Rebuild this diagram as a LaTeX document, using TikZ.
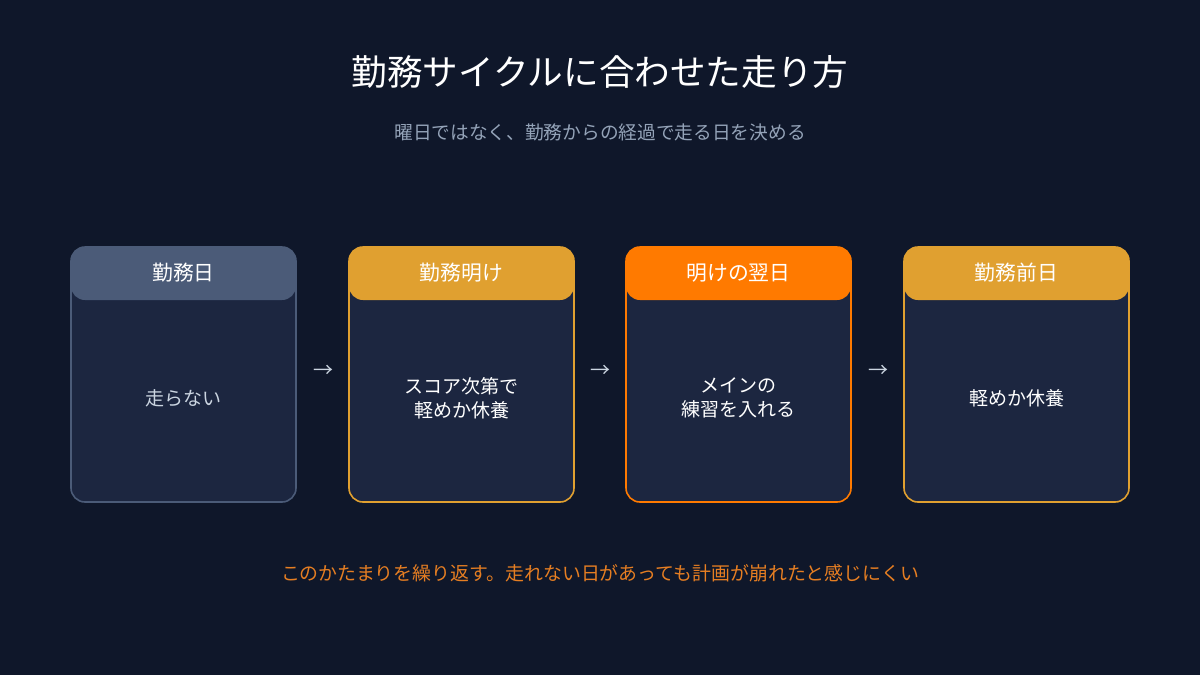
\documentclass[tikz,border=0pt]{standalone}
\usepackage{fontspec}
\setmainfont{Noto Sans CJK JP}
\definecolor{bg}{HTML}{0F172A}
\definecolor{boxfill}{HTML}{1C2640}
\definecolor{slate}{HTML}{4B5B78}
\definecolor{gold}{HTML}{E0A030}
\definecolor{orng}{HTML}{FF7A00}
\definecolor{subgray}{HTML}{94A3B8}
\definecolor{bodygray}{HTML}{CBD5E1}
\definecolor{foot}{HTML}{E67E22}
\begin{document}
\begin{tikzpicture}[x=1pt,y=-1pt,
  card/.style={draw=#1, line width=1.6pt, fill=boxfill, rounded corners=14pt},
  hdrtext/.style={font=\fontsize{20.8}{24}\selectfont, text=white, anchor=center},
  bodytext/.style={font=\fontsize{19}{24}\selectfont, text=white, align=center, anchor=center},
  arr/.style={font=\fontsize{20}{24}\selectfont, text=bodygray, anchor=center}]
\fill[bg] (0,0) rectangle (1200,675);
\useasboundingbox (0,0) rectangle (1200,675);
\node[font=\fontsize{35.6}{40}\selectfont, text=white] (title) at (600,72) {勤務サイクルに合わせた走り方};
\node[font=\fontsize{18.7}{22}\selectfont, text=subgray] (sub) at (600,132) {曜日ではなく、勤務からの経過で走る日を決める};
% cards
\foreach \i/\x/\c in {1/71/slate,2/349/gold,3/626/orng,4/904/gold}{
  \draw[card=\c] (\x,247) rectangle ++(225,255);
  \fill[\c, rounded corners=14pt] (\x,247) -- ++(225,0) -- ++(0,53) -- ++(-225,0) -- cycle;
  \fill[\c] (\x,262) rectangle ++(225,24);
  \coordinate (c\i) at (\x+112.5,273);
  \coordinate (b\i) at (\x+112.5,398);
}
\node[hdrtext] (h1) at (c1) {勤務日};
\node[hdrtext] (h2) at (c2) {勤務明け};
\node[hdrtext] (h3) at (c3) {明けの翌日};
\node[hdrtext] (h4) at (c4) {勤務前日};
\node[bodytext, text=bodygray] (t1) at (b1) {走らない};
\node[bodytext] (t2) at (b2) {スコア次第で\\軽めか休養};
\node[bodytext] (t3) at (b3) {メインの\\練習を入れる};
\node[bodytext] (t4) at (b4) {軽めか休養};
\node[arr] (a1) at (323,371) {→};
\node[arr] (a2) at (600,371) {→};
\node[arr] (a3) at (878,371) {→};
\node[font=\fontsize{18.9}{22}\selectfont, text=foot] (ft) at (600,573) {このかたまりを繰り返す。走れない日があっても計画が崩れたと感じにくい};
\end{tikzpicture}
\end{document}
